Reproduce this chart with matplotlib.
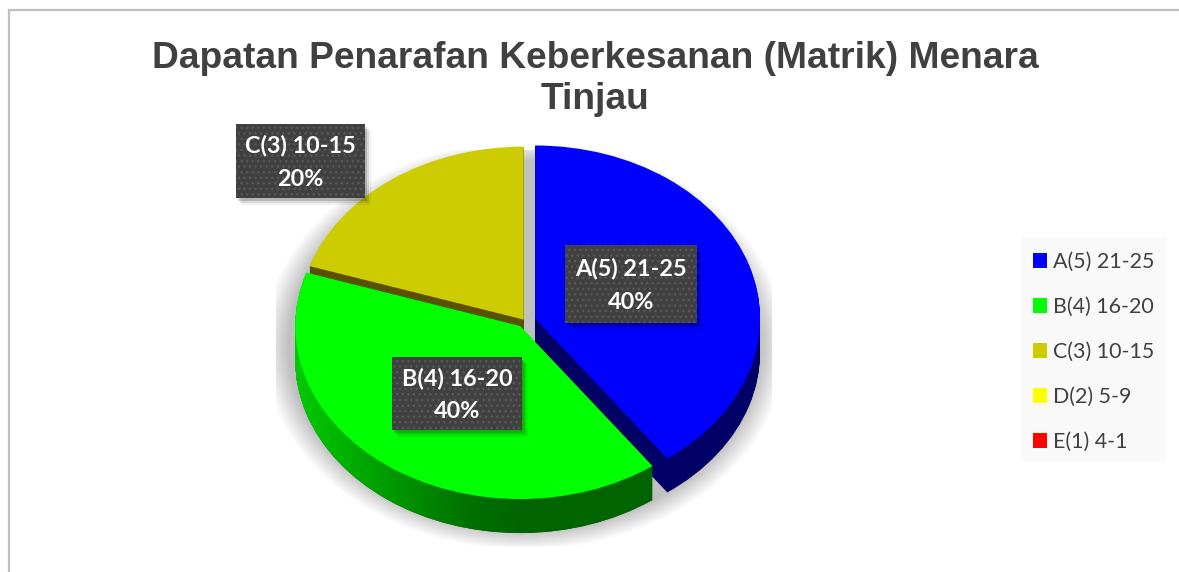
import numpy as np
import matplotlib
matplotlib.use("Agg")
import matplotlib.pyplot as plt
from matplotlib.patches import Rectangle
from matplotlib.path import Path

categories = ["A(5) 21-25", "B(4) 16-20", "C(3) 10-15", "D(2) 5-9", "E(1) 4-1"]
values = [40, 40, 20, 0, 0]
explode = [0.047, 0.036, 0.01, 0, 0]
top_colors = ["#0000ff", "#00ff00", "#cccc00", "#ffff00", "#ff0000"]
side_colors = ["#000066", "#006400", "#5a5000", "#666600", "#660000"]
title = "Dapatan Penarafan Keberkesanan (Matrik) Menara\nTinjau"

W, H = 1179, 572
cx, cy, rx, ry, depth = 525, 321, 225, 173, 34

fig = plt.figure(figsize=(W / 100, H / 100), dpi=100)

# pixel axes under the pie: frame and shadow
bg = fig.add_axes([0, 0, 1, 1], zorder=0)
bg.set_xlim(0, W)
bg.set_ylim(H, 0)
bg.axis("off")
bg.plot([9, 9, W], [H, 10, 10], color="#bfbfbf", lw=1.6, solid_joinstyle="miter")

# soft shadow, cut off by its rectangle like the bitmap in the original
xx, yy = np.meshgrid(np.arange(276, 772), np.arange(150, 546))
d = np.sqrt(((xx - 524) / 262) ** 2 + ((yy - 345) / 205) ** 2)
shadow = np.zeros(d.shape + (4,))
shadow[..., 3] = np.clip((1.0 - d) / 0.10, 0, 1) * 0.25
bg.imshow(shadow, extent=(276, 772, 546, 150), aspect="auto", zorder=1)
bg.set_xlim(0, W)
bg.set_ylim(H, 0)

# pie axes: one data unit is rx pixels across and ry pixels down
ax = fig.add_axes([0, 0, 1, 1], zorder=1)
xlim = (-cx / rx, (W - cx) / rx)
ylim = ((cy - H) / ry, cy / ry)

# side walls: dark copies of the pie stacked downwards
z = 1
green_paths = []
for k in range(depth, 0, -1):
    wedges, _ = ax.pie(values, explode=explode, colors=side_colors, startangle=90,
                       counterclock=False, center=(0, -k / ry),
                       wedgeprops={"linewidth": 0, "zorder": z})
    green_paths.append(wedges[1].get_patch_transform().transform_path(wedges[1].get_path()))
    z += 1

# the green wall gets lighter towards the left
gx = np.array([-1.05, -0.65, -0.25, 0.0, 1.0])
gg = np.array([205, 160, 112, 100, 100]) / 255
grad = np.zeros((1, 800, 3))
grad[0, :, 1] = np.interp(np.linspace(-1.1, 1.1, 800), gx, gg)
im = ax.imshow(grad, extent=(-1.1, 1.1, -1.4, 1.2), aspect="auto", zorder=z,
               interpolation="bilinear")
im.set_clip_path(Path.make_compound_path(*green_paths), ax.transData)
z += 1

tops, _ = ax.pie(values, explode=explode, colors=top_colors, startangle=90,
                 counterclock=False, wedgeprops={"linewidth": 0, "zorder": z})
ax.set_aspect("auto")
ax.set_xlim(*xlim)
ax.set_ylim(*ylim)

# overlay: title, data labels, legend
ov = fig.add_axes([0, 0, 1, 1], zorder=2)
ov.set_xlim(0, W)
ov.set_ylim(H, 0)
ov.axis("off")

ov.text(595, 79, title, ha="center", va="center", fontsize=26.7, fontweight="bold",
        family="Liberation Sans", color="#404040", linespacing=1.22)

boxes = [(565, 245, 132, 78), (392, 357, 130, 73), (236, 124, 129, 74)]
for i, (bx, by, bw, bh) in enumerate(boxes):
    for off, a in [(7, 0.06), (5, 0.10), (3, 0.16)]:
        ov.add_patch(Rectangle((bx + off - 1, by + off), bw, bh, fc="black", ec="none", alpha=a))
    ov.add_patch(Rectangle((bx, by), bw, bh, fc="#404040", ec="none"))
    ov.add_patch(Rectangle((bx, by), bw, bh, fc="none", ec="#585858", hatch="...", lw=0))
    ov.text(bx + bw / 2, by + bh / 2 + 1.5, "%s\n%d%%" % (categories[i], values[i]),
            ha="center", va="center", color="white", fontsize=16.8, fontweight="bold",
            family="Lato", linespacing=1.72)

# legend background is placed by hand so the rows can sit where they do in the original
ov.add_patch(Rectangle((1021, 237), 145, 225, fc="#f9f9f9", ec="none"))
leg = ov.legend(tops, categories, loc="upper left",
                bbox_to_anchor=(1033 / W, 1 - 252 / H), bbox_transform=fig.transFigure,
                frameon=False, prop={"family": "Lato", "size": 15.4}, labelcolor="#404040",
                handlelength=0.65, handleheight=0.65, handletextpad=0.28,
                labelspacing=1.17, borderpad=0, borderaxespad=0)

fig.savefig("out.png", dpi=100)
